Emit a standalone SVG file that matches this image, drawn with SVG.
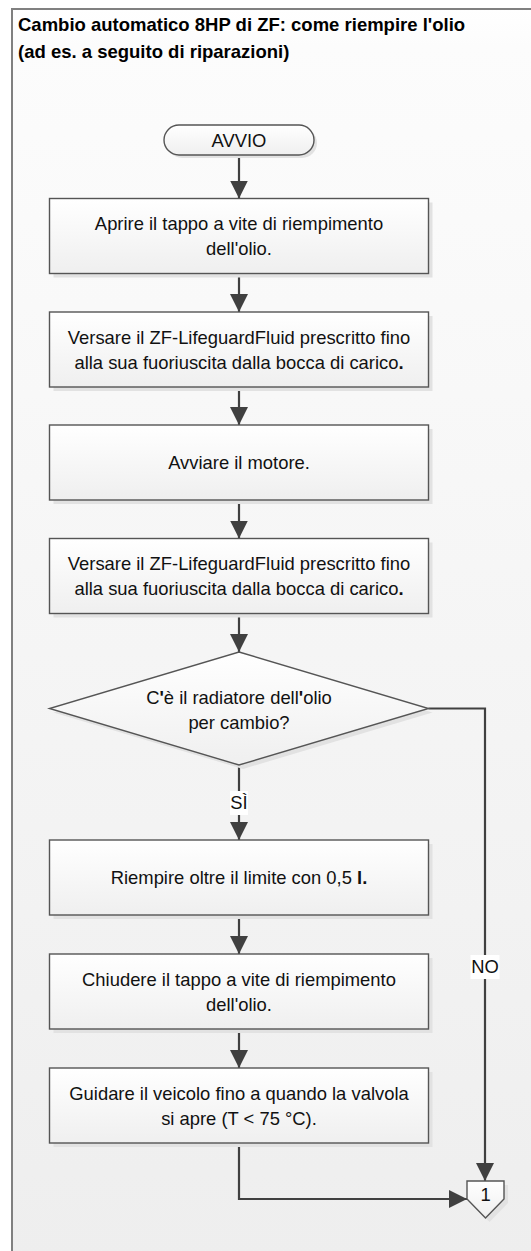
<svg xmlns="http://www.w3.org/2000/svg" width="531" height="1251" viewBox="0 0 531 1251">
<defs>
<linearGradient id="bg" x1="0" y1="0" x2="0" y2="1">
<stop offset="0" stop-color="#ffffff"/>
<stop offset="0.03" stop-color="#fcfcfc"/>
<stop offset="1" stop-color="#eeeeee"/>
</linearGradient>
<linearGradient id="boxfill" x1="0" y1="0" x2="0" y2="1">
<stop offset="0" stop-color="#ffffff"/>
<stop offset="1" stop-color="#efefef"/>
</linearGradient>
<marker id="arr" markerUnits="userSpaceOnUse" markerWidth="18" markerHeight="18" refX="18" refY="9" orient="auto">
<path d="M0,0 L18,9 L0,18 Z" fill="#404040"/>
</marker>
<style>
.box{fill:url(#boxfill);stroke:#555555;stroke-width:1.4}
.shadow{fill:#e2e2e2}
.t{font-family:"Liberation Sans",Arial,sans-serif;font-size:18.4px;fill:#111111;text-anchor:middle}
.title{font-family:"Liberation Sans",Arial,sans-serif;font-size:18.5px;font-weight:bold;fill:#000000}
.conn{fill:none;stroke:#404040;stroke-width:2.2;marker-end:url(#arr)}
.lbl{fill:#ffffff}
.b{font-weight:bold}
</style>
</defs>
<rect x="0" y="0" width="531" height="1251" fill="#ffffff"/>
<rect x="12" y="9" width="530" height="1250" fill="url(#bg)"/>
<path d="M12,1260 V9 H540" fill="none" stroke="#808080" stroke-width="2"/>
<g id="title">
<text class="title" x="18" y="31">Cambio automatico 8HP di ZF: come riempire l'olio</text>
<text class="title" x="18" y="57.5">(ad es. a seguito di riparazioni)</text>
</g>
<g id="connectors">
<path class="conn" d="M239,155 V198.5"/>
<path class="conn" d="M239,273.5 V312"/>
<path class="conn" d="M239,387 V425"/>
<path class="conn" d="M239,500 V538.5"/>
<path class="conn" d="M239,613.5 V652"/>
<path class="conn" d="M239,765 V840"/>
<path class="conn" d="M239,915 V954"/>
<path class="conn" d="M239,1029 V1068"/>
<path class="conn" d="M239,1143 V1199 H467"/>
<path class="conn" d="M428.5,708.5 H485 V1181"/>
<rect class="lbl" x="230" y="791" width="18" height="24"/>
<text class="t" x="239" y="808.5">SÌ</text>
<rect class="lbl" x="470.5" y="955" width="29" height="24"/>
<text class="t" x="485" y="973">NO</text>
</g>
<g id="start">
<rect class="shadow" x="167" y="128" width="150" height="30" rx="15"/>
<rect class="box" x="164" y="125" width="150" height="30" rx="15"/>
<text class="t" x="239" y="146.5">AVVIO</text>
</g>
<g id="step1">
<rect class="shadow" x="53.5" y="202.5" width="379" height="75"/>
<rect class="box" x="49.5" y="198.5" width="379" height="75"/>
<text class="t" x="239" y="230">Aprire il tappo a vite di riempimento</text>
<text class="t" x="239" y="255">dell'olio.</text>
</g>
<g id="step2">
<rect class="shadow" x="53.5" y="316" width="379" height="75"/>
<rect class="box" x="49.5" y="312" width="379" height="75"/>
<text class="t" x="239" y="343.5">Versare il ZF-LifeguardFluid prescritto fino</text>
<text class="t" x="239" y="368.5">alla sua fuoriuscita dalla bocca di carico<tspan class="b">.</tspan></text>
</g>
<g id="step3">
<rect class="shadow" x="53.5" y="429" width="379" height="75"/>
<rect class="box" x="49.5" y="425" width="379" height="75"/>
<text class="t" x="239" y="469">Avviare il motore.</text>
</g>
<g id="step4">
<rect class="shadow" x="53.5" y="542.5" width="379" height="75"/>
<rect class="box" x="49.5" y="538.5" width="379" height="75"/>
<text class="t" x="239" y="570">Versare il ZF-LifeguardFluid prescritto fino</text>
<text class="t" x="239" y="595">alla sua fuoriuscita dalla bocca di carico<tspan class="b">.</tspan></text>
</g>
<g id="decision">
<polygon class="shadow" points="243,656 432.5,712.5 243,769 53.5,712.5"/>
<polygon class="box" points="239,652 428.5,708.5 239,765 49.5,708.5"/>
<text class="t" x="239" y="704">C<tspan class="b">'</tspan>è il radiatore dell<tspan class="b">'</tspan>olio</text>
<text class="t" x="239" y="729">per cambio?</text>
</g>
<g id="step5">
<rect class="shadow" x="53.5" y="844" width="379" height="75"/>
<rect class="box" x="49.5" y="840" width="379" height="75"/>
<text class="t" x="239" y="884">Riempire oltre il limite con 0,5 <tspan class="b">l.</tspan></text>
</g>
<g id="step6">
<rect class="shadow" x="53.5" y="958" width="379" height="75"/>
<rect class="box" x="49.5" y="954" width="379" height="75"/>
<text class="t" x="239" y="985.5">Chiudere il tappo a vite di riempimento</text>
<text class="t" x="239" y="1010.5">dell'olio.</text>
</g>
<g id="step7">
<rect class="shadow" x="53.5" y="1072" width="379" height="75"/>
<rect class="box" x="49.5" y="1068" width="379" height="75"/>
<text class="t" x="239" y="1099.5">Guidare il veicolo fino a quando la valvola</text>
<text class="t" x="239" y="1124.5">si apre (T &lt; 75 °C).</text>
</g>
<g id="offpage">
<polygon class="shadow" points="471,1185 508,1185 508,1203 489.5,1222 471,1203"/>
<polygon class="box" points="467,1181 504,1181 504,1199 485.5,1218 467,1199"/>
<text class="t" x="485.5" y="1201">1</text>
</g>
</svg>
